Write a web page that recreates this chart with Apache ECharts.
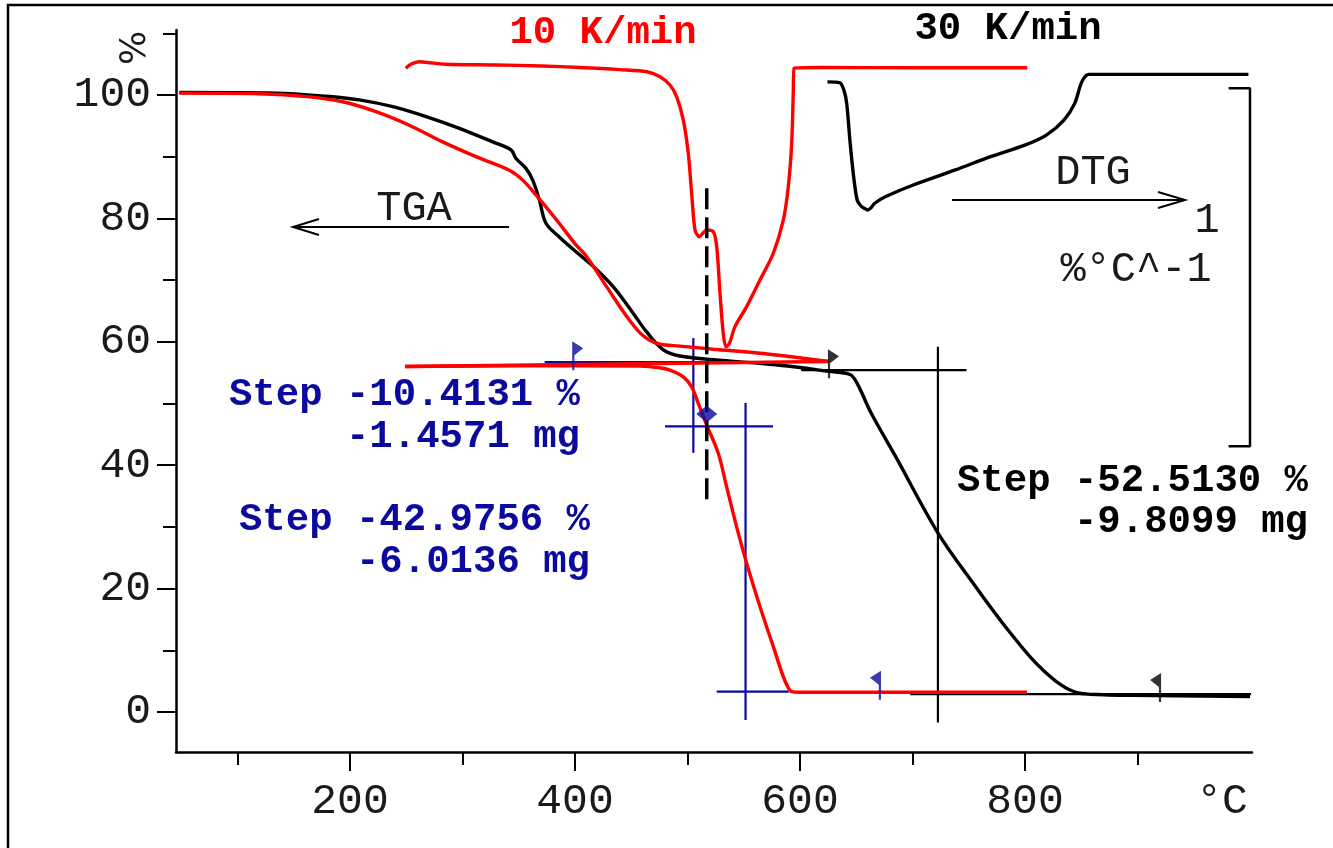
<!DOCTYPE html>
<html>
<head>
<meta charset="utf-8">
<script src="https://cdn.jsdelivr.net/npm/echarts@6/dist/echarts.min.js"></script>
<style>
  html, body { margin: 0; padding: 0; background: #fff; }
  #chart { width: 1333px; height: 848px; }
</style>
</head>
<body>
<div id="chart"></div>
<script>
// ---- Tick values ----
const tempTicksMajor = [200, 400, 600, 800];
const tempTicksMinor = [100, 300, 500, 700, 900];
const massTicksMajor = [0, 20, 40, 60, 80, 100];
const massTicksMinor = [10, 30, 50, 70, 90, 110];

// ---- TGA, 30 K/min run: [temperature °C, mass %] ----
const tga30 = [[48.3,100.4],[134.2,100.3],[178.7,99.8],[208.3,99.2],[238,98.1],[267.6,96.5],[297.2,94.6],
  [326.8,92.4],[343.1,91.1],[347.6,89.7],[356.4,88.1],[362.4,86.2],[368.3,83.0],[374.2,79.2],[386,77.0],
  [400.9,74.6],[416.3,72.2],[434.1,68.9],[451.8,64.6],[463.7,61.6],[478.5,58.7],[493.3,57.7],[523,57.1],
  [582.2,56.2],[625.8,55.2],[644.4,54.7],[650.7,53.3],[663.1,48.5],[685.3,41.3],[722.7,29.0],[753.8,20.9],
  [784.9,13.3],[816,6.8],[847.1,3.1],[870,2.8],[894.2,2.7],[1000,2.5]];

// ---- TGA, 10 K/min run: heating, cooling back, reheating ----
const tga10Heat = [[48.3,100.3],[119.4,100.2],[163.8,99.7],[193.5,98.9],[223.1,97.3],[252.7,95.1],[282.4,92.4],
  [312,90.0],[341.6,87.8],[353.5,86.2],[365.3,83.8],[386,79.2],[400.9,75.7],[410.4,73.8],[428.2,68.9],
  [446,64.1],[458,61.4],[466,60.3],[475.6,59.6],[493.3,59.3],[523,58.8],[567.4,58.1],[625.8,56.8]];
const tga10Cool = [[625.8,56.8],[249,56.0]];
const tga10Reheat = [[249,56.0],[350,56.1],[457.8,56.05],[475,55.8],[484.4,55.4],[496.3,54.3],[503.7,52.7],
  [509.6,50.0],[517.1,46.5],[527.4,41.9],[534.8,36.5],[543.7,30.0],[552.6,24.1],[564.4,17.1],[576.3,10.6],
  [585.2,5.7],[590,3.8],[592.6,3.3],[600,3.2],[700,3.2],[801.8,3.2]];

// ---- DTG curves: [temperature °C, rate %/°C] ----
const dtg10 = [[249.5,-0.006],[252.5,0.002],[255.6,0.007],[261.8,0.012],[269,0.010],[285,0.005],[330,0.003],
  [370,0.0],[404,-0.004],[440,-0.010],[464,-0.016],[475.6,-0.030],[484.4,-0.053],[490.4,-0.086],[496.3,-0.151],
  [500.7,-0.244],[503.7,-0.356],[506.7,-0.458],[510.5,-0.477],[514,-0.466],[517.1,-0.458],[523,-0.463],
  [526,-0.505],[528.9,-0.635],[531.8,-0.747],[534.2,-0.784],[537.2,-0.775],[542.2,-0.728],[552.6,-0.672],
  [564.4,-0.598],[576.3,-0.523],[585.2,-0.430],[589.6,-0.337],[592.6,-0.216],[594,-0.076],[594.7,-0.006],
  [620,-0.004],[700,-0.005],[802,-0.005]];
const dtg30 = [[624.4,-0.022],[635.2,-0.024],[639,-0.045],[641.5,-0.082],[644.6,-0.194],[647.7,-0.287],
  [650.8,-0.352],[654,-0.368],[657.1,-0.375],[660.2,-0.380],[663.3,-0.373],[666.4,-0.361],[675.8,-0.343],
  [700.7,-0.310],[738.1,-0.268],[769.3,-0.231],[800.5,-0.198],[819.3,-0.170],[834.8,-0.128],[844.2,-0.082],
  [850.5,-0.022],[856.7,-0.001],[900,-0.001],[998.6,-0.001]];

// ---- Step evaluations (horizontal levels and step verticals, in °C / %) ----
const blueStepLines = [
  [[373, 56.7], [531, 56.7]],
  [[505.2, 60.6], [505.2, 42.0]],
  [[480, 46.3], [576, 46.3]],
  [[551.6, 50.1], [551.6, -1.3]],
  [[526, 3.3], [590, 3.3]]
];
const blackStepLines = [
  [[601, 55.4], [748, 55.4]],
  [[722.6, 59.2], [722.6, -1.7]],
  [[698, 2.9], [1001, 2.9]]
];
const blueFlagsRight = [[398.5, 56.7]];
const blueFlagsLeft = [[671, 3.3]];
const blueDiamond = [[517.1, 48.3]];
const blackFlagsRight = [[625.8, 55.4]];
const blackFlagsLeft = [[920, 2.9]];
const markerLine = [[517.1, 84.9], [517.1, 33.5]];

// DTG scale bar: 1 %/°C
const dtgScaleBar = { t: 1000, tStub: 981, top: -0.062, length: 1 };

const RED = '#ff0000', BLUE = '#0a0a9e', BLACK = '#000000';
const MONO = '"Liberation Mono", "Courier New", monospace';

const RIGHT_FLAG = 'path://M0,0L11,7L2.2,14L2.2,29L0,29Z';
const LEFT_FLAG = 'path://M11,0L0,7L8.8,14L8.8,29L11,29Z';

const chart = echarts.init(document.getElementById('chart'), null, { renderer: 'canvas' });

function segSeries(seg, color, width) {
  return { type: 'line', data: seg, symbol: 'none', silent: true,
    lineStyle: { color: color, width: width }, z: 2 };
}

const series = [];
blueStepLines.forEach(s => series.push(segSeries(s, BLUE, 2.2)));
blackStepLines.forEach(s => series.push(segSeries(s, BLACK, 2.2)));

const CURVE_W = 3.4;
series.push({ type: 'line', data: tga30, symbol: 'none', smooth: 0.35,
  lineStyle: { color: BLACK, width: CURVE_W }, z: 3 });
series.push({ type: 'line', data: dtg30, yAxisIndex: 3, symbol: 'none', smooth: 0.3,
  lineStyle: { color: BLACK, width: CURVE_W }, z: 3 });
series.push({ type: 'line', data: tga10Cool, symbol: 'none', lineStyle: { color: RED, width: CURVE_W }, z: 4 });
series.push({ type: 'line', data: tga10Heat, symbol: 'none', smooth: 0.35,
  lineStyle: { color: RED, width: CURVE_W }, z: 4 });
series.push({ type: 'line', data: tga10Reheat, symbol: 'none', smooth: 0.35,
  lineStyle: { color: RED, width: CURVE_W }, z: 4 });
series.push({ type: 'line', data: dtg10, yAxisIndex: 2, symbol: 'none', smooth: 0.3,
  lineStyle: { color: RED, width: CURVE_W }, z: 4 });

// dashed marker
series.push({ type: 'line', data: markerLine, symbol: 'none',
  lineStyle: { color: BLACK, width: 3.5, type: [21, 8] }, z: 5 });

// DTG scale bar bracket
series.push({ type: 'line', yAxisIndex: 2, symbol: 'none',
  data: [[dtgScaleBar.tStub, dtgScaleBar.top], [dtgScaleBar.t, dtgScaleBar.top],
         [dtgScaleBar.t, dtgScaleBar.top - dtgScaleBar.length], [dtgScaleBar.tStub, dtgScaleBar.top - dtgScaleBar.length]],
  lineStyle: { color: BLACK, width: 2.5 }, z: 3 });

// flags
function flagSeries(data, sym, size, offset, color) {
  return { type: 'scatter', data: data, symbol: sym, symbolSize: size, symbolOffset: offset,
    itemStyle: { color: color }, silent: true, z: 6 };
}
series.push(flagSeries(blueFlagsRight, RIGHT_FLAG, [11, 29], [4.4, -6.5], BLUE));
series.push(flagSeries(blueFlagsLeft, LEFT_FLAG, [11, 29], [-4.4, -6.5], BLUE));
series.push(flagSeries(blackFlagsRight, RIGHT_FLAG, [11, 29], [4.4, -6.5], BLACK));
series.push(flagSeries(blackFlagsLeft, LEFT_FLAG, [11, 29], [-4.4, -6.5], BLACK));
series.push(flagSeries(blueDiamond, 'diamond', [21, 17], [0, 0], BLUE));

const axisLineStyle = { color: BLACK, width: 2.5 };
const labelStyle = { fontFamily: MONO, fontSize: 43, color: '#1a1a1a' };

const option = {
  animation: false,
  backgroundColor: '#ffffff',
  grid: { left: 176, right: 81, top: 30, bottom: 96, containLabel: false },
  xAxis: [
    { type: 'value', min: 45.33, max: 1001.78,
      axisLine: { show: true, onZero: false, lineStyle: axisLineStyle },
      axisTick: { show: true, length: 19, customValues: tempTicksMajor, lineStyle: { color: BLACK, width: 2 } },
      axisLabel: Object.assign({ customValues: tempTicksMajor, margin: 28 }, labelStyle),
      splitLine: { show: false } },
    { type: 'value', min: 45.33, max: 1001.78, position: 'bottom',
      axisLine: { show: false, onZero: false },
      axisTick: { show: true, length: 13, customValues: tempTicksMinor, lineStyle: { color: BLACK, width: 2 } },
      axisLabel: { show: false }, splitLine: { show: false } }
  ],
  yAxis: [
    { type: 'value', min: -6.48, max: 110.53,
      axisLine: { show: true, onZero: false, lineStyle: axisLineStyle },
      axisTick: { show: true, length: 19, customValues: massTicksMajor, lineStyle: { color: BLACK, width: 2 } },
      axisLabel: Object.assign({ customValues: massTicksMajor, margin: 25 }, labelStyle),
      splitLine: { show: false } },
    { type: 'value', min: -6.48, max: 110.53, position: 'left',
      axisLine: { show: false, onZero: false },
      axisTick: { show: true, length: 13, customValues: massTicksMinor, lineStyle: { color: BLACK, width: 2 } },
      axisLabel: { show: false }, splitLine: { show: false } },
    // DTG, 10 K/min (hidden, 1 %/°C = scale bar height)
    { type: 'value', min: -1.9162, max: 0.1006, show: false },
    // DTG, 30 K/min (hidden, same scale, own baseline)
    { type: 'value', min: -1.8939, max: 0.1229, show: false }
  ],
  series: series,
  graphic: [
    { type: 'polyline', shape: { points: [[8, 848], [8, 5], [1333, 5]] },
      style: { stroke: BLACK, lineWidth: 2.5, fill: null } },
    { type: 'text', x: 136, y: 48, rotation: Math.PI / 2,
      style: { text: '%', x: 0, y: 0, font: '36px "DejaVu Sans"', fill: '#1a1a1a',
        textAlign: 'center', textVerticalAlign: 'middle' } },
    { type: 'text', style: { text: '°C', x: 1222, y: 802, font: '43px ' + MONO, fill: '#1a1a1a',
      textAlign: 'center', textVerticalAlign: 'middle' } },
    { type: 'text', style: { text: '10 K/min', x: 603, y: 33, font: 'bold 39px ' + MONO, fill: RED,
      textAlign: 'center', textVerticalAlign: 'middle' } },
    { type: 'text', style: { text: '30 K/min', x: 1008, y: 29, font: 'bold 39px ' + MONO, fill: BLACK,
      textAlign: 'center', textVerticalAlign: 'middle' } },
    { type: 'text', style: { text: 'TGA', x: 414, y: 209, font: '42px ' + MONO, fill: '#1a1a1a',
      textAlign: 'center', textVerticalAlign: 'middle' } },
    { type: 'polyline', shape: { points: [[509, 227], [293, 227]] }, style: { stroke: BLACK, lineWidth: 2, fill: null } },
    { type: 'polyline', shape: { points: [[319, 219], [293, 227], [319, 235]] }, style: { stroke: BLACK, lineWidth: 2, fill: null } },
    { type: 'text', style: { text: 'DTG', x: 1093, y: 173, font: '42px ' + MONO, fill: '#1a1a1a',
      textAlign: 'center', textVerticalAlign: 'middle' } },
    { type: 'polyline', shape: { points: [[952, 200], [1185, 200]] }, style: { stroke: BLACK, lineWidth: 2, fill: null } },
    { type: 'polyline', shape: { points: [[1158, 192], [1185, 200], [1158, 208]] }, style: { stroke: BLACK, lineWidth: 2, fill: null } },
    { type: 'text', style: { text: '1', x: 1207, y: 221, font: '42px ' + MONO, fill: '#1a1a1a',
      textAlign: 'center', textVerticalAlign: 'middle' } },
    { type: 'text', style: { text: '%°C^-1', x: 1136, y: 270, font: '42px ' + MONO, fill: '#1a1a1a',
      textAlign: 'center', textVerticalAlign: 'middle' } },
    { type: 'text', style: { text: 'Step -10.4131 %', x: 580, y: 395, font: 'bold 39px ' + MONO, fill: BLUE,
      textAlign: 'right', textVerticalAlign: 'middle' } },
    { type: 'text', style: { text: '-1.4571 mg', x: 580, y: 437, font: 'bold 39px ' + MONO, fill: BLUE,
      textAlign: 'right', textVerticalAlign: 'middle' } },
    { type: 'text', style: { text: 'Step -42.9756 %', x: 590, y: 520, font: 'bold 39px ' + MONO, fill: BLUE,
      textAlign: 'right', textVerticalAlign: 'middle' } },
    { type: 'text', style: { text: '-6.0136 mg', x: 590, y: 562, font: 'bold 39px ' + MONO, fill: BLUE,
      textAlign: 'right', textVerticalAlign: 'middle' } },
    { type: 'text', style: { text: 'Step -52.5130 %', x: 1308, y: 481, font: 'bold 39px ' + MONO, fill: BLACK,
      textAlign: 'right', textVerticalAlign: 'middle' } },
    { type: 'text', style: { text: '-9.8099 mg', x: 1308, y: 522, font: 'bold 39px ' + MONO, fill: BLACK,
      textAlign: 'right', textVerticalAlign: 'middle' } }
  ]
};

chart.setOption(option);
</script>
</body>
</html>
